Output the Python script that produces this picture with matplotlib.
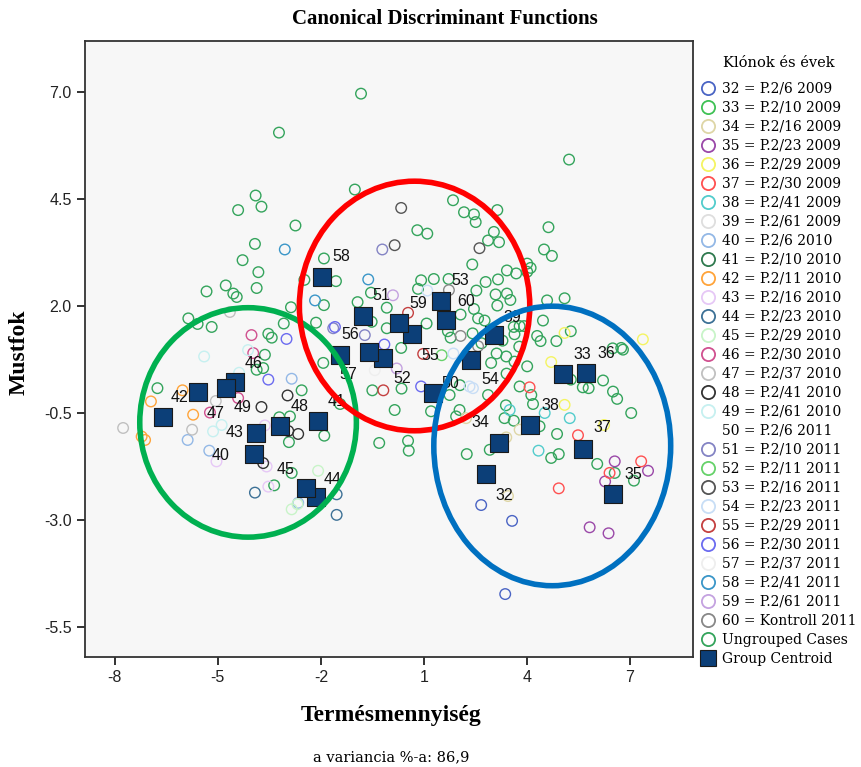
import matplotlib
matplotlib.use("Agg")
import matplotlib.pyplot as plt
from matplotlib.lines import Line2D
from matplotlib.patches import Ellipse

# ---- data ----
groups = list(range(32, 61))
group_names = ["P.2/6 2009", "P.2/10 2009", "P.2/16 2009", "P.2/23 2009",
               "P.2/29 2009", "P.2/30 2009", "P.2/41 2009", "P.2/61 2009",
               "P.2/6 2010", "P.2/10 2010", "P.2/11 2010", "P.2/16 2010",
               "P.2/23 2010", "P.2/29 2010", "P.2/30 2010", "P.2/37 2010",
               "P.2/41 2010", "P.2/61 2010", "P.2/6 2011", "P.2/10 2011",
               "P.2/11 2011", "P.2/16 2011", "P.2/23 2011", "P.2/29 2011",
               "P.2/30 2011", "P.2/37 2011", "P.2/41 2011", "P.2/61 2011",
               "Kontroll 2011"]

# group centroids, in group order 32..60
centroid_x = [2.81, 5.05, 3.19, 6.51, 5.72, 5.63, 4.09, 3.04, -3.95, -2.09,
              -6.60, -3.89, -2.14, -2.44, -4.50, -5.58, -3.19, -4.77, 1.26,
              -0.77, -0.19, 1.50, 2.37, 0.65, -0.60, -1.44, -1.97, 0.27, 1.64]
centroid_y = [-1.92, 0.42, -1.19, -2.39, 0.44, -1.33, -0.77, 1.33, -1.45,
              -0.68, -0.59, -0.96, -2.46, -2.25, 0.23, 0.00, -0.80, 0.09,
              -0.03, 1.77, 0.79, 2.12, 0.75, 1.35, 0.93, 0.86, 2.68, 1.61,
              1.68]

# individual grouped cases
case_group = ([32] * 3 + [34] * 4 + [35] * 5 + [36] * 5 + [37] * 5 + [38] * 4
              + [40] * 4 + [42] * 5 + [43] * 4 + [44] * 3 + [45] * 3
              + [46] * 4 + [47] * 4 + [48] * 5 + [49] * 5 + [51] * 3 + [52]
              + [53] * 3 + [54] * 4 + [55] * 3 + [56] * 5 + [57] + [58] * 3
              + [59] * 2 + [60] * 3)
case_x = [2.67, 3.57, 3.37,
          3.45, 3.79, 3.40, 2.23,
          6.56, 7.53, 6.28, 5.83, 6.38,
          4.71, 5.10, 6.25, 5.10, 7.38,
          4.08, 5.49, 7.33, 6.41, 4.93,
          3.50, 5.25, 4.34, 4.52,
          -5.88, -5.25, -2.85, -2.66,
          -6.03, -6.95, -5.72, -7.22, -7.12,
          -5.04, -3.63, -3.58, -3.53,
          -3.92, -1.54, -1.54,
          -2.08, -2.85, -2.68,
          -5.23, -4.41, -3.97, -4.02,
          -7.76, -5.75, -5.06, -4.65,
          -3.73, -2.97, -2.66, -3.68, -2.95,
          -5.40, -4.89, -5.14, -4.12, -4.38,
          -0.21, -0.72, -1.64,
          1.52,
          0.34, 0.15, 2.62,
          1.10, 2.43, 1.86, 2.33,
          0.54, -0.18, 0.98,
          -1.59, -3.00, -0.15, -3.53, 0.92,
          -0.43,
          -3.05, -0.62, -2.17,
          0.10, 0.21,
          1.73, 2.07, 2.58]
case_y = [-2.64, -3.01, -4.72,
          -2.43, -0.88, -1.06, -0.61,
          -1.62, -1.84, -2.09, -3.16, -3.30,
          0.70, -0.30, -0.77, 1.38, 1.23,
          0.11, -1.01, -1.62, -1.89, -2.25,
          -0.42, -0.61, -1.37, -0.49,
          -1.12, -1.37, 0.31, -2.59,
          0.04, -0.22, -0.53, -1.04, -1.12,
          -1.62, -0.78, -1.74, -2.21,
          -2.35, -2.39, -2.87,
          -1.84, -2.74, -2.62,
          -0.48, -0.14, 0.91, 1.33,
          -0.84, -0.88, -0.21, 1.87,
          -0.35, -0.08, -0.98, -1.66, -0.91,
          0.83, -0.77, -0.92, 0.98, 0.45,
          3.33, 1.33, 1.49,
          0.86,
          4.30, 3.43, 3.36,
          2.37, 0.09, 0.90, 0.13,
          1.85, 0.04, 0.89,
          1.52, 1.24, 1.11, 0.29, 0.13,
          0.51,
          3.33, 2.63, 2.14,
          2.26, 0.55,
          2.38, 1.31, 1.07]

# ungrouped cases
ungrouped_x = [-0.83, -3.22, -3.90, -3.73, -4.41, -2.74, -1.01, -3.92, -4.28,
               -3.82, -3.87, -4.77, -4.55, -4.45, -5.33, -5.86, -5.59, -5.18,
               -2.87, -3.08, -3.53, -3.43, -1.91, -2.48, -1.56, -1.91, -2.14,
               -0.93, -0.54, -0.08, -0.08, -0.52,
               5.23, 1.85, 2.17, 2.46, 2.51, 3.14, 0.81, 1.10, 3.04, 2.87,
               3.19, 4.63, 4.50, 4.73, 2.41, 4.01, 4.11, 4.01, 3.42, 3.69,
               3.16, 2.80, 0.92, 1.29, 1.72, 0.83, 2.53, 3.09, 3.42, 3.52,
               3.14, 2.46, 2.07, 2.58, 2.77, 4.59, 5.10, 4.47, 3.62, 3.79,
               3.92, 3.64, 4.30, 4.40, 4.86, 5.28, 1.70, 1.78, 0.34, 6.75,
               1.08, 2.42, 2.68,
               -3.63, -3.87, -3.68, -6.76, -2.56, -1.93, -0.50, -0.30, -3.21,
               -2.90, -2.93, -1.90, -2.85, -3.36, -1.44,
               2.96, 3.40, 3.64, 4.01, 0.15, 1.21, 1.75, 0.54, 0.56, 2.04,
               1.94, 2.87, 3.79, 3.35, 3.62, 4.13, 4.18, 4.37, 4.88, 4.71,
               4.93, 2.25, 2.92, 5.63, 5.80, 6.22, 6.51, 6.63, 7.04, 6.05,
               6.56, 7.12, 5.28, 6.80, 0.35, 2.05, 3.12, 3.41, 3.78, 3.29,
               3.39, 6.50]
ungrouped_y = [6.97, 6.06, 4.59, 4.33, 4.25, 3.89, 4.73, 3.46, 3.08, 2.80,
               2.43, 2.49, 2.30, 2.22, 2.35, 1.72, 1.59, 1.52, 1.98, 1.60,
               1.36, 1.27, 3.12, 2.62, 2.59, 2.03, 1.62, 2.10, 2.32, 1.97,
               1.49, 1.64,
               5.43, 4.48, 4.20, 4.15, 3.97, 4.25, 3.78, 3.70, 3.74, 3.54,
               3.50, 3.85, 3.33, 3.18, 2.98, 3.00, 2.90, 2.81, 2.84, 2.77,
               2.63, 2.57, 2.61, 2.64, 2.64, 2.41, 2.37, 2.28, 2.30, 2.15,
               2.02, 1.94, 1.81, 1.72, 1.67, 2.14, 2.19, 1.67, 1.52, 1.54,
               1.54, 1.35, 1.31, 1.19, 1.19, 1.42, 1.42, 1.27, 1.03, 1.03,
               1.60, 1.37, 1.14,
               0.87, 0.52, 0.56, 0.09, 0.04, 0.68, 0.04, -1.19, -0.59, -0.57,
               -1.17, -1.02, -1.89, -2.18, -0.28,
               0.68, 0.83, 0.71, 0.60, -0.42, -0.45, -0.07, -1.14, -1.37,
               -0.42, -0.57, -0.07, 0.13, -0.61, -0.67, -0.07, -0.28, -0.80,
               -0.98, -1.54, -1.45, -1.45, -1.35, 0.11, 0.09, 0.27, 0.01,
               -0.16, -0.49, -1.68, -1.89, -2.07, 0.29, 0.99, 0.08, 0.16,
               0.90, 0.43, 1.06, 1.20, -0.31, 1.02]

# the three hand-drawn ellipses (centre x, centre y, width, height)
ellipse_cx = [-4.12, 0.73, 4.74]
ellipse_cy = [-0.71, 2.01, -1.26]
ellipse_w = [6.31, 6.71, 6.90]
ellipse_h = [5.36, 5.83, 6.53]

# ---- styles ----
group_colors = ["#4a64c4", "#3fc155", "#ded6a6", "#9a48a8", "#f4f462",
                "#ff5050", "#52cccc", "#dedede", "#93b8e6", "#2f7a4f",
                "#ffa43a", "#e6c8f6", "#3d7196", "#c8f4c8", "#d0508f",
                "#c0c0c0", "#333333", "#c6f0f0", "#ffffff", "#8484c4",
                "#66d26a", "#555555", "#c8def6", "#c44040", "#6b6bf0",
                "#eeeeee", "#3a96c8", "#c4a2e0", "#888888"]
ungrouped_color = "#34a45c"
centroid_color = "#0c3f78"
ellipse_colors = ["#00b050", "#ff0000", "#0070c0"]

# label offsets of the centroid numbers, in pixels
label_dx = [18, 19, -19, 20, 20, 20, 20, 18, -33, 19, 17, -21, 17, -20, 19,
            18, 20, 17, 17, 18, 19, 19, 19, 18, -19, 8, 19, 19, 20]
label_dy = [-21, 20, 20, 20, 20, 21, 19, 18, -1, 20, 20, 1, 18, 19, 19,
            -21, 20, -19, 10, 21, -20, 21, -20, -21, 18, -19, 21, 20, 19]

title_serif = ["Liberation Serif", "DejaVu Serif"]
text_serif = ["DejaVu Serif"]
sans = ["Liberation Sans", "DejaVu Sans"]
color_of = dict(zip(groups, group_colors))
plt.rcParams["axes.unicode_minus"] = False


def main():
    fig = plt.figure(figsize=(8.61, 7.67), dpi=100)
    ax = fig.add_axes([85 / 861, 1 - 657 / 767, 608 / 861, 616 / 767])
    ax.set_facecolor("#f7f7f7")

    ax.scatter(ungrouped_x, ungrouped_y, s=58, facecolors="none",
               edgecolors=ungrouped_color, linewidths=1.0, zorder=2)
    ax.scatter(case_x, case_y, s=58, facecolors="none",
               edgecolors=[color_of[g] for g in case_group],
               linewidths=1.0, zorder=2)

    ax.scatter(centroid_x, centroid_y, s=150, marker="s",
               color=centroid_color, edgecolors="#1a1a1a", linewidths=0.8,
               zorder=4)
    for g, x, y, dx, dy in zip(groups, centroid_x, centroid_y,
                               label_dx, label_dy):
        ax.annotate(str(g), (x, y), xytext=(dx, dy),
                    textcoords="offset pixels", ha="center", va="center",
                    fontsize=11.5, family=sans, color="#111111", zorder=5)

    for cx, cy, w, h, c in zip(ellipse_cx, ellipse_cy, ellipse_w, ellipse_h,
                               ellipse_colors):
        ax.add_patch(Ellipse((cx, cy), w, h, fill=False, edgecolor=c,
                             linewidth=4, zorder=6))

    ax.set_xlim(-8.87, 8.84)
    ax.set_ylim(-6.19, 8.2)
    ax.set_xticks([-8, -5, -2, 1, 4, 7])
    ax.set_yticks([-5.5, -3.0, -0.5, 2.0, 4.5, 7.0])
    ax.set_yticklabels(["%.1f" % v for v in ax.get_yticks()])
    ax.tick_params(direction="out", length=6, width=1.3, labelsize=11.5,
                   colors="#222222")
    for lab in ax.get_xticklabels() + ax.get_yticklabels():
        lab.set_family(sans)
    for side in ax.spines.values():
        side.set_color("#333333")
        side.set_linewidth(1.3)

    fig.text(445 / 861, 1 - 19 / 767, "Canonical Discriminant Functions",
             ha="center", va="center", fontsize=15, fontweight="bold",
             family=title_serif)
    fig.text(19 / 861, 1 - 352 / 767, "Mustfok", rotation=90, ha="center",
             va="center", fontsize=17, fontweight="bold", family=title_serif)
    fig.text(391 / 861, 1 - 716 / 767, "Termésmennyiség", ha="center",
             va="center", fontsize=17, fontweight="bold", family=title_serif)
    fig.text(391 / 861, 1 - 757 / 767, "a variancia %-a: 86,9", ha="center",
             va="center", fontsize=10.5, family=text_serif)

    handles = [Line2D([], [], ls="", marker="o", ms=9.5, mfc="none",
                      mec=c, mew=1.3) for c in group_colors]
    labels = ["%d = %s" % (g, n) for g, n in zip(groups, group_names)]
    handles.append(Line2D([], [], ls="", marker="o", ms=9.5, mfc="none",
                          mec=ungrouped_color, mew=1.3))
    labels.append("Ungrouped Cases")
    handles.append(Line2D([], [], ls="", marker="s", ms=12,
                          mfc=centroid_color, mec="#1a1a1a", mew=0.8))
    labels.append("Group Centroid")
    leg = fig.legend(handles, labels, loc="upper left",
                     bbox_to_anchor=(701 / 861, 1 - 56 / 767),
                     frameon=False, title="Klónok és évek",
                     prop={"family": text_serif, "size": 10},
                     title_fontproperties={"family": text_serif,
                                           "size": 10.5},
                     labelspacing=0.36, handlelength=1.0,
                     handletextpad=0.5, borderpad=0.0, borderaxespad=0.0)
    leg._legend_box.sep = 8.4

    fig.savefig("out.png", dpi=100)


if __name__ == "__main__":
    main()
